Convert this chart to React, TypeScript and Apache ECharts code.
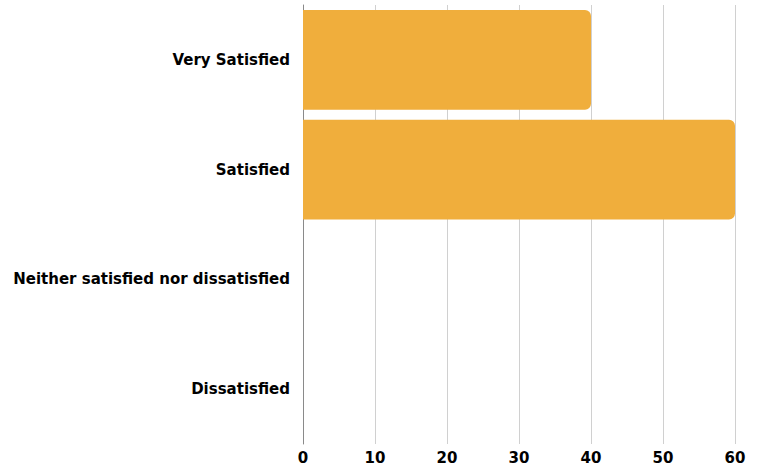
import React, { useEffect, useRef } from "react";
import * as echarts from "echarts";

const categories = ["Very Satisfied", "Satisfied", "Neither satisfied nor dissatisfied", "Dissatisfied"];
const values = [40, 60, 0, 0];
const xTicks = { min: 0, max: 60, interval: 10 };

const FONT = "DejaVu Sans";

export default function App() {
  const ref = useRef<HTMLDivElement>(null);
  useEffect(() => {
    if (!ref.current) return;
    const chart = echarts.init(ref.current, null, { renderer: "svg" });
    chart.setOption({
      animation: false,
      grid: { left: 303, right: 27, top: 5, bottom: 19, containLabel: false },
      xAxis: {
        type: "value",
        min: xTicks.min,
        max: xTicks.max,
        interval: xTicks.interval,
        axisLine: { show: false },
        axisTick: { show: false },
        splitLine: { show: true, lineStyle: { color: "#d0d0d0", width: 1 } },
        axisLabel: {
          color: "#000",
          fontFamily: FONT,
          fontWeight: "bold",
          fontSize: 15,
          margin: 6,
        },
      },
      yAxis: {
        type: "category",
        data: categories,
        inverse: true,
        axisLine: { show: true, lineStyle: { color: "#8a8a8a", width: 1 } },
        axisTick: { show: false },
        axisLabel: {
          color: "#000",
          fontFamily: FONT,
          fontWeight: "bold",
          fontSize: 15,
          margin: 13,
        },
      },
      series: [
        {
          type: "bar",
          data: values,
          barCategoryGap: "9%",
          itemStyle: { color: "#F0AE3C", borderRadius: [0, 6, 6, 0] },
        },
      ],
    });
    return () => chart.dispose();
  }, []);
  return (
    <div
      ref={ref}
      style={{ position: "absolute", left: 0, top: 0, width: 762, height: 465 }}
    />
  );
}
